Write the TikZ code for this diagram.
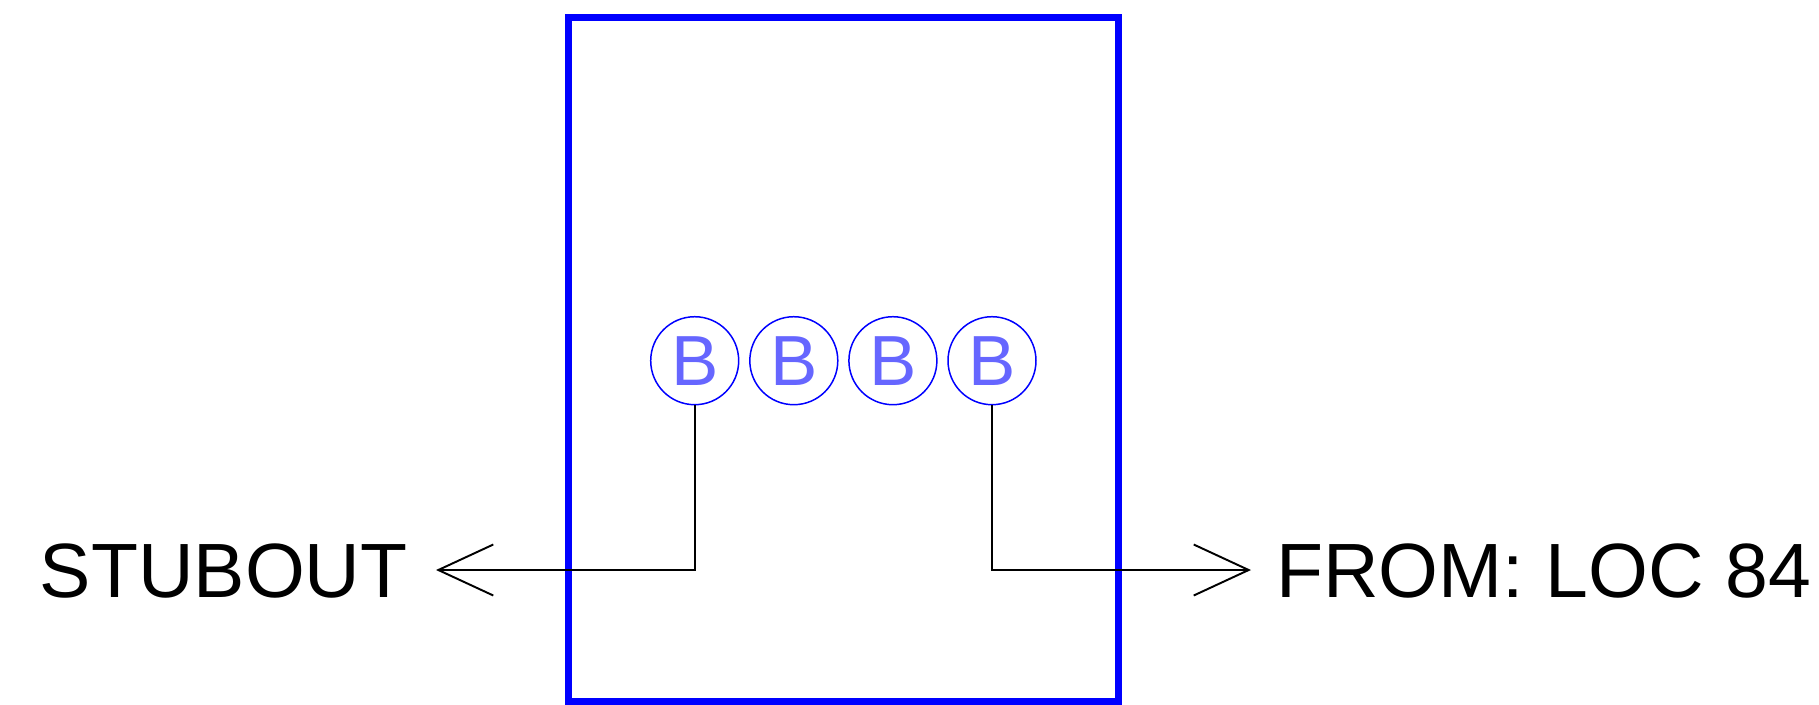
\documentclass[tikz,border=0pt]{standalone}
\usepackage{fontspec}
\setmainfont{Liberation Sans}
\usepackage{tikz}
\usetikzlibrary{arrows.meta}
\definecolor{boxblue}{rgb}{0.0, 0.0, 1.0}
\definecolor{letterblue}{rgb}{0.4, 0.4, 1.0}
\tikzset{
    bcircle/.style={draw=boxblue, shape=circle, line width=0.85pt, inner sep=0pt,
        minimum size=1.76cm, text=letterblue, font=\fontsize{40.4}{46}\selectfont},
    label/.style={inner sep=0pt, anchor=base west, font=\fontsize{43.8}{50}\selectfont},
    wire/.style={line width=1.1pt, -{Straight Barb[length=1.1cm, width=1.02cm, line width=1.1pt]}}
}

\begin{document}
\begin{tikzpicture}[x=0.02cm, y=-0.02cm]
                            \useasboundingbox (0,0) rectangle (1819,704);
                            \draw [boxblue, line width=3.98pt] (568,17) rectangle (1118,701);
                            \foreach \i/\x in {1/694.7, 2/793.8, 3/892.9, 4/992}
                                \node[bcircle] (b\i) at (\x,360.7) {B};
                            \node[label] (stubout) at (39.5,597) {STUBOUT};
                            \node[label] (fromloc) at (1276,597) {FROM: LOC 84};
                            \coordinate (stubtip) at (436,570);
                            \coordinate (fromtip) at (1251,570);
                            \draw [wire] (b1.south) |- (stubtip);
                            \draw [wire] (b4.south) |- (fromtip);
                        \end{tikzpicture}
\end{document}
